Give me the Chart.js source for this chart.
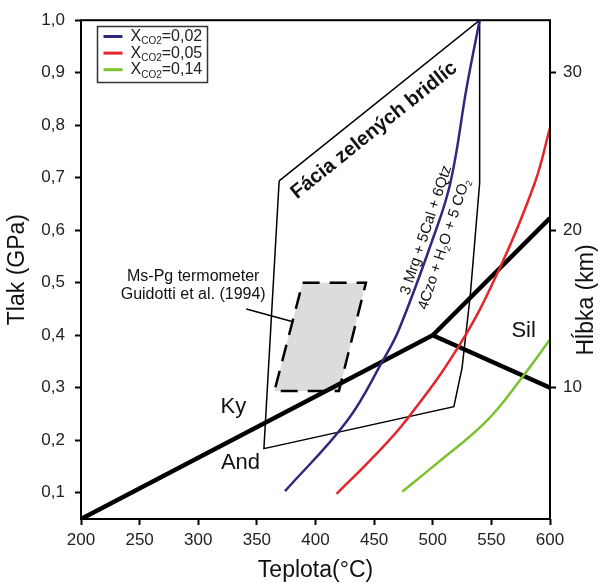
<!DOCTYPE html>
<html>
<head>
<meta charset="utf-8">
<script src="https://cdn.jsdelivr.net/npm/chart.js@4.4.1/dist/chart.umd.min.js"></script>
<style>
  html, body { margin: 0; padding: 0; background: #fff; }
</style>
</head>
<body>
<canvas id="myChart" width="601" height="583"></canvas>
<script>
// tick labels
let tempTicks = [200, 250, 300, 350, 400, 450, 500, 550, 600];
let pressureTicks = [0.1, 0.2, 0.3, 0.4, 0.5, 0.6, 0.7, 0.8, 0.9, 1.0];
let depthTicks = [10, 20, 30];
let kmPerGPa = 100 / 3;

// reaction curves, temperature (°C) and pressure (GPa)
let xco2Labels = ['0,02', '0,05', '0,14'];
let curve002T = [374, 427, 458, 471, 499, 515, 529, 540];
let curve002P = [0.103, 0.237, 0.354, 0.41, 0.577, 0.69, 0.873, 1.0];
let curve005T = [418, 448, 477, 523, 557, 587, 600];
let curve005P = [0.098, 0.165, 0.237, 0.382, 0.527, 0.69, 0.795];
let curve014T = [474, 503, 546, 577, 600];
let curve014P = [0.102, 0.155, 0.237, 0.322, 0.392];

// Al2SiO5 phase boundaries
let kyAndSilT = [200, 500, 600];
let kyAndSilP = [0.05, 0.4, 0.623];
let andSilT = [500, 600];
let andSilP = [0.4, 0.3];

// greenschist facies field
let faciesT = [369, 540, 540, 532, 525, 518, 356, 369];
let faciesP = [0.694, 1.0, 0.69, 0.476, 0.338, 0.264, 0.184, 0.694];

// Ms-Pg thermometer box and its leader line
let thermoT = [389, 443, 420, 365, 389];
let thermoP = [0.5, 0.5, 0.294, 0.294, 0.5];
let leaderT = [341, 380];
let leaderP = [0.45, 0.426];

const family = '"Liberation Sans", Arial, Helvetica, sans-serif';
const curveColors = ['#2c2a7c', '#e3262b', '#7cc12e'];

function toPoints(xs, ys) {
    return xs.map((v, i) => ({ x: v, y: ys[i] }));
}

function setFont(ctx, size, bold) {
    ctx.font = (bold ? 'bold ' : '') + size + 'px ' + family;
}

// text made of parts, some of them subscripts
function richWidth(ctx, parts, size, bold) {
    let w = 0;
    parts.forEach(p => {
        setFont(ctx, p.sub ? Math.round(size * 0.6) : size, bold);
        w += ctx.measureText(p.t).width;
    });
    return w;
}

function drawRich(ctx, parts, size, bold, x, y) {
    ctx.textBaseline = 'middle';
    ctx.textAlign = 'left';
    parts.forEach(p => {
        let s = p.sub ? Math.round(size * 0.6) : size;
        setFont(ctx, s, bold);
        ctx.fillText(p.t, x, p.sub ? y + size * 0.32 : y);
        x += ctx.measureText(p.t).width;
    });
}

function rotatedText(ctx, parts, size, bold, px, py, angle) {
    ctx.save();
    ctx.translate(px, py);
    ctx.rotate(angle);
    let w = richWidth(ctx, parts, size, bold);
    drawRich(ctx, parts, size, bold, -w / 2, 0);
    ctx.restore();
}

const decor = {
    id: 'decor',
    afterDatasetsDraw(chart) {
        const { ctx, chartArea: a, scales: { x, y } } = chart;
        const px = t => x.getPixelForValue(t);
        const py = p => y.getPixelForValue(p);
        ctx.save();
        ctx.fillStyle = '#111';

        // frame
        ctx.strokeStyle = '#000';
        ctx.lineWidth = 2;
        ctx.strokeRect(a.left, a.top, a.right - a.left, a.bottom - a.top);

        // field labels
        setFont(ctx, 22, false);
        ctx.textAlign = 'center';
        ctx.textBaseline = 'middle';
        ctx.fillText('Ky', px(330), py(0.264));
        ctx.fillText('And', px(336), py(0.156));
        ctx.fillText('Sil', px(577.5), py(0.409));

        // thermometer note
        setFont(ctx, 16, false);
        ctx.fillText('Ms-Pg termometer', px(295.7), py(0.511));
        ctx.fillText('Guidotti et al. (1994)', px(295.7), py(0.477));

        // facies name along the upper edge
        let ang1 = Math.atan2(py(1.0) - py(0.694), px(540) - px(369));
        rotatedText(ctx, [{ t: 'Fácia zelených bridlíc' }], 20, true, px(450), py(0.79), ang1);

        // reaction along the blue curve
        let ang2 = Math.atan2(py(0.785) - py(0.407), px(525) - px(469));
        rotatedText(ctx, [{ t: '3 Mrg + 5Cal + 6Qtz' }], 15, false, px(494.4), py(0.6), ang2);
        rotatedText(ctx, [{ t: '4Czo + H' }, { t: '2', sub: true }, { t: 'O + 5 CO' }, { t: '2', sub: true }],
            15, false, px(509.8), py(0.573), ang2);

        // legend
        let lx = a.left + 16.5, ly = a.top + 6.3;
        ctx.strokeStyle = '#333';
        ctx.lineWidth = 1.5;
        ctx.strokeRect(lx, ly, 110, 56);
        xco2Labels.forEach((lab, i) => {
            let ry = ly + 10 + i * 16.6;
            ctx.strokeStyle = curveColors[i];
            ctx.lineWidth = 3;
            ctx.beginPath();
            ctx.moveTo(lx + 6, ry);
            ctx.lineTo(lx + 25, ry);
            ctx.stroke();
            ctx.fillStyle = '#222';
            drawRich(ctx, [{ t: 'X' }, { t: 'CO2', sub: true }, { t: '=' + lab }], 16, false, lx + 33, ry);
        });
        ctx.restore();
    },
    afterDraw(chart) {
        const { ctx, chartArea: a } = chart;
        ctx.save();
        ctx.fillStyle = '#111';
        setFont(ctx, 23, false);
        ctx.textAlign = 'center';
        ctx.textBaseline = 'middle';
        ctx.fillText('Teplota(°C)', (a.left + a.right) / 2, 571);
        ctx.translate(18, (a.top + a.bottom) / 2);
        ctx.rotate(-Math.PI / 2);
        ctx.fillText('Tlak (GPa)', 0, 0);
        ctx.restore();
        ctx.save();
        ctx.fillStyle = '#111';
        setFont(ctx, 23, false);
        ctx.textAlign = 'center';
        ctx.textBaseline = 'middle';
        ctx.translate(587, 300);
        ctx.rotate(-Math.PI / 2);
        ctx.fillText('Hĺbka (km)', 0, 0);
        ctx.restore();
    }
};

function lineSet(label, xs, ys, color, width, extra) {
    return Object.assign({
        label: label,
        data: toPoints(xs, ys),
        borderColor: color,
        borderWidth: width,
        pointRadius: 0,
        fill: false,
        tension: 0
    }, extra || {});
}

let curveOpts = { tension: 0.4 };

let tickFont = { family: family, size: 17 };
let axisGrid = { drawOnChartArea: false, drawTicks: true, tickLength: 6, tickWidth: 2, tickColor: '#000', color: '#000' };

let ctx = document.getElementById('myChart').getContext('2d');
let myChart = new Chart(ctx, {
    type: 'line',
    data: {
        datasets: [
            lineSet('XCO2=0,02', curve002T, curve002P, curveColors[0], 2.5, curveOpts),
            lineSet('XCO2=0,05', curve005T, curve005P, curveColors[1], 2.5, curveOpts),
            lineSet('XCO2=0,14', curve014T, curve014P, curveColors[2], 2.5, curveOpts),
            lineSet('Ky/And, Ky/Sil', kyAndSilT, kyAndSilP, '#000', 4.5),
            lineSet('And/Sil', andSilT, andSilP, '#000', 4.5),
            lineSet('Fácia zelených bridlíc', faciesT, faciesP, '#000', 1.5),
            lineSet('leader', leaderT, leaderP, '#000', 1.5),
            lineSet('Ms-Pg', thermoT, thermoP, '#000', 2.5, {
                fill: 'shape',
                backgroundColor: '#dcdcdc',
                borderDash: [17, 10]
            })
        ]
    },
    options: {
        responsive: false,
        animation: false,
        layout: { padding: { top: 16, left: 0, right: 0, bottom: 0 } },
        plugins: {
            legend: { display: false },
            tooltip: { enabled: false }
        },
        scales: {
            x: {
                type: 'linear',
                min: 200,
                max: 600,
                afterBuildTicks: s => { s.ticks = tempTicks.map(v => ({ value: v })); },
                afterFit: s => { s.height = 64; },
                grid: axisGrid,
                border: { display: false },
                ticks: { color: '#222', font: tickFont, padding: 5, maxRotation: 0, autoSkip: false }
            },
            y: {
                type: 'linear',
                position: 'left',
                min: 0.05,
                max: 1.0,
                afterBuildTicks: s => { s.ticks = pressureTicks.map(v => ({ value: v })); },
                afterFit: s => { s.width = 81; },
                grid: axisGrid,
                border: { display: false },
                ticks: {
                    color: '#222', font: tickFont, padding: 10, autoSkip: false,
                    callback: v => v.toFixed(1).replace('.', ',')
                }
            },
            y2: {
                type: 'linear',
                position: 'right',
                min: 0.05 * kmPerGPa,
                max: 1.0 * kmPerGPa,
                afterBuildTicks: s => { s.ticks = depthTicks.map(v => ({ value: v })); },
                afterFit: s => { s.width = 51; },
                grid: axisGrid,
                border: { display: false },
                ticks: { color: '#222', font: tickFont, padding: 7, autoSkip: false }
            }
        }
    },
    plugins: [decor]
});
</script>
</body>
</html>
